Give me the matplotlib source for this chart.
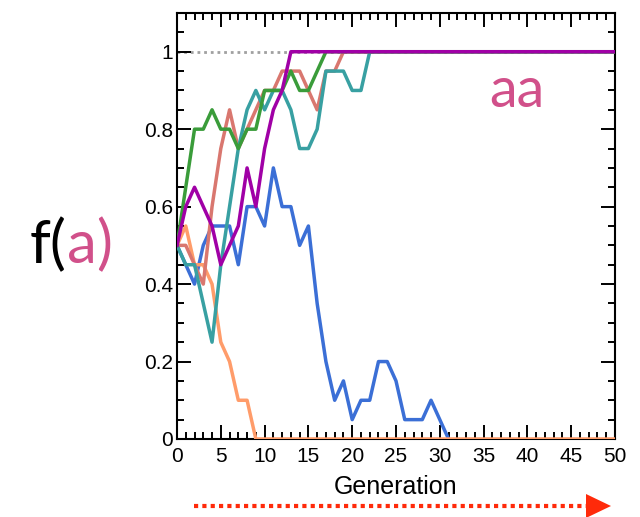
import matplotlib
matplotlib.use("Agg")
import matplotlib.pyplot as plt
from matplotlib.ticker import MultipleLocator, FixedLocator, FixedFormatter
from matplotlib.lines import Line2D
from matplotlib.patches import Polygon

# allele frequency f(a) per generation, six replicate populations
generations = list(range(51))
f_green = [0.5, 0.65, 0.8, 0.8, 0.85, 0.8, 0.8, 0.75, 0.8, 0.8, 0.9, 0.9, 0.9, 0.95, 0.9, 0.9, 0.95,
           1, 1, 1, 1, 1, 1, 1, 1, 1, 1, 1, 1, 1, 1, 1, 1, 1, 1, 1, 1, 1, 1, 1, 1, 1, 1, 1, 1, 1, 1, 1, 1, 1, 1]
f_salmon = [0.5, 0.5, 0.45, 0.4, 0.6, 0.75, 0.85, 0.75, 0.8, 0.85, 0.9, 0.9, 0.95, 0.95, 0.95, 0.9, 0.85,
            0.95, 0.95, 1, 1, 1, 1, 1, 1, 1, 1, 1, 1, 1, 1, 1, 1, 1, 1, 1, 1, 1, 1, 1, 1, 1, 1, 1, 1, 1, 1, 1, 1, 1, 1]
f_teal = [0.5, 0.45, 0.45, 0.35, 0.25, 0.45, 0.6, 0.75, 0.85, 0.9, 0.85, 0.9, 0.9, 0.85, 0.75, 0.75, 0.8,
          0.95, 0.95, 0.95, 0.9, 0.9, 1, 1, 1, 1, 1, 1, 1, 1, 1, 1, 1, 1, 1, 1, 1, 1, 1, 1, 1, 1, 1, 1, 1, 1, 1, 1, 1, 1, 1]
f_purple = [0.5, 0.6, 0.65, 0.6, 0.55, 0.45, 0.5, 0.55, 0.7, 0.6, 0.75, 0.85, 0.9, 1,
            1, 1, 1, 1, 1, 1, 1, 1, 1, 1, 1, 1, 1, 1, 1, 1, 1, 1, 1, 1, 1, 1, 1, 1, 1, 1, 1, 1, 1, 1, 1, 1, 1, 1, 1, 1, 1]
f_blue = [0.5, 0.45, 0.4, 0.5, 0.55, 0.55, 0.55, 0.45, 0.6, 0.6, 0.55, 0.7, 0.6, 0.6, 0.5, 0.55, 0.35,
          0.2, 0.1, 0.15, 0.05, 0.1, 0.1, 0.2, 0.2, 0.15, 0.05, 0.05, 0.05, 0.1, 0.05, 0]
f_orange = [0.5, 0.55, 0.45, 0.45, 0.4, 0.25, 0.2, 0.1, 0.1, 0,
            0, 0, 0, 0, 0, 0, 0, 0, 0, 0, 0, 0, 0, 0, 0, 0, 0, 0, 0, 0, 0, 0, 0, 0, 0, 0, 0, 0, 0, 0, 0, 0, 0, 0, 0, 0, 0, 0, 0, 0, 0]

xticks = [0, 5, 10, 15, 20, 25, 30, 35, 40, 45, 50]
yticks = [0, 0.2, 0.4, 0.6, 0.8, 1.0]
ytick_labels = ["0", "0.2", "0.4", "0.6", "0.8", "1"]

PINK = "#d1508a"
lw = 2.5

fig = plt.figure(figsize=(6.4, 5.17), dpi=100)
ax = fig.add_axes([177 / 640, 1 - 439 / 517, 438 / 640, 426 / 517])

ax.axhline(1.0, color="#a0a0a0", lw=2, ls=(0, (1, 1.4)), zorder=1)

# draw order: orange over blue at zero, purple on top at fixation
ax.plot(generations[:len(f_blue)], f_blue, color="#3b6fd6", lw=lw, zorder=2)
ax.plot(generations, f_orange, color="#ff9c6a", lw=lw, zorder=3)
ax.plot(generations, f_salmon, color="#d9776f", lw=lw, zorder=3)
ax.plot(generations, f_teal, color="#38a0a2", lw=lw, zorder=4)
ax.plot(generations, f_green, color="#3a9c3a", lw=lw, zorder=5)
ax.plot(generations, f_purple, color="#a000a6", lw=lw, zorder=6)

ax.set_xlim(0, 50)
ax.set_ylim(0, 1.1)
ax.xaxis.set_major_locator(FixedLocator(xticks))
ax.xaxis.set_minor_locator(MultipleLocator(1))
ax.yaxis.set_major_locator(FixedLocator(yticks))
ax.yaxis.set_major_formatter(FixedFormatter(ytick_labels))
ax.yaxis.set_minor_locator(MultipleLocator(0.05))

ax.tick_params(which="both", direction="in", top=True, right=True, width=1.4, color="black")
ax.tick_params(which="major", length=10)
ax.tick_params(which="minor", length=5)
ax.tick_params(axis="x", labelsize=15, pad=6)
ax.tick_params(axis="y", labelsize=15, pad=3)
for lab in ax.get_xticklabels() + ax.get_yticklabels():
    lab.set_family("Liberation Sans")
for sp in ax.spines.values():
    sp.set_linewidth(1.5)

ax.set_xlabel("Generation", fontsize=18, family="Liberation Sans", labelpad=6)

# "aa" genotype tag
ax.text(35.7, 0.858, "aa", fontsize=40, color=PINK, family="Lato", va="baseline")

# y label f(a) with coloured allele
t1 = fig.text(30 / 640, 1 - 263 / 517, "f(", fontsize=43, family="Lato", color="black", va="baseline")
t2 = ax.annotate("a", xy=(1, 0), xycoords=t1, fontsize=43, family="Lato", color=PINK,
                 va="bottom", ha="left", annotation_clip=False)
ax.annotate(")", xy=(1, 0), xycoords=t2, fontsize=43, family="Lato", color=PINK,
            va="bottom", ha="left", annotation_clip=False)

# dotted red arrow under the axis
y_arr = 1 - 506 / 517
fig.add_artist(Line2D([194 / 640, 588 / 640], [y_arr, y_arr], transform=fig.transFigure,
                      color="#ff2a0a", lw=3, ls=(0, (1, 1)), solid_capstyle="butt"))
fig.add_artist(Polygon([[586 / 640, 1 - 494 / 517], [586 / 640, 1 - 518 / 517], [611 / 640, y_arr]],
                       closed=True, transform=fig.transFigure, color="#ff2a0a", lw=0))

fig.savefig("out.png", dpi=100)
